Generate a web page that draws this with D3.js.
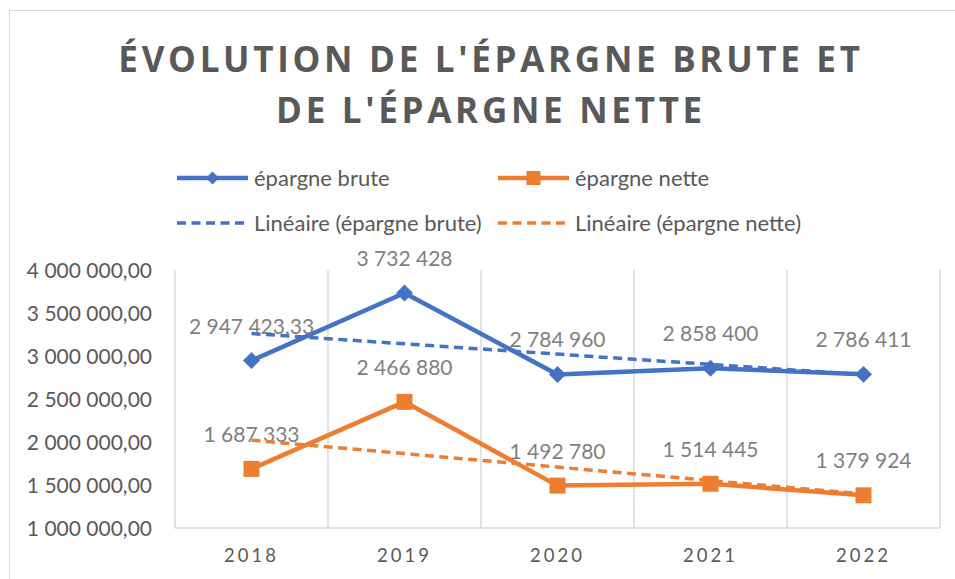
<!DOCTYPE html>
<html>
<head>
<meta charset="utf-8">
<script src="https://cdn.jsdelivr.net/npm/d3@7"></script>
<style>
  body { margin: 0; background: #fff; }
  text { font-family: Lato, "Noto Sans", sans-serif; fill: #595959; }
</style>
</head>
<body>
<svg id="chart"></svg>
<script>
// Data
const years = ["2018", "2019", "2020", "2021", "2022"];
const epargneBrute = [2947423.33, 3732428, 2784960, 2858400, 2786411];
const epargneNette = [1687333, 2466880, 1492780, 1514445, 1379924];
const yTicks = [1000000, 1500000, 2000000, 2500000, 3000000, 3500000, 4000000];
const titleLines = ["ÉVOLUTION DE L'ÉPARGNE BRUTE ET", "DE L'ÉPARGNE NETTE"];
const seriesNames = ["épargne brute", "épargne nette"];
const trendNames = ["Linéaire (épargne brute)", "Linéaire (épargne nette)"];

const width = 955, height = 579;
const blue = "#4472C4", orange = "#ED7D31", grid = "#d9d9d9";

const fr = d3.formatLocale({ decimal: ",", thousands: " ", grouping: [3], currency: ["", " €"] });
const axisFmt = fr.format(",.2f");
const labelFmt = v => Number.isInteger(v) ? fr.format(",.0f")(v) : fr.format(",.2f")(v);

const svg = d3.select("#chart").attr("width", width).attr("height", height);
svg.append("rect").attr("width", width).attr("height", height).attr("fill", "#fff");

// chart frame
svg.append("rect")
  .attr("x", 9.5).attr("y", 10.5)
  .attr("width", width + 20).attr("height", height + 20)
  .attr("fill", "none").attr("stroke", grid).attr("stroke-width", 1);

// Title
svg.append("g").selectAll("text")
  .data(titleLines)
  .join("text")
  .attr("x", 491)
  .attr("y", (d, i) => 72 + i * 51)
  .attr("text-anchor", "middle")
  .style("font-family", "'Open Sans', sans-serif")
  .style("font-weight", 700)
  .style("font-size", "35px")
  .style("letter-spacing", "3.7px")
  .text(d => d);

// Scales
const x = d3.scaleBand().domain(years).range([175, 940]);
const y = d3.scaleLinear().domain([1000000, 4000000]).range([528, 270]);
const cx = d => x(d) + x.bandwidth() / 2;

// vertical gridlines at category boundaries
const bounds = years.map(d => x(d)).concat([x.range()[1]]);
svg.append("g").selectAll("line")
  .data(bounds)
  .join("line")
  .attr("x1", d => d).attr("x2", d => d)
  .attr("y1", y.range()[1]).attr("y2", y.range()[0])
  .attr("stroke", grid).attr("stroke-width", 1.5);

// baseline
svg.append("line")
  .attr("x1", x.range()[0]).attr("x2", x.range()[1])
  .attr("y1", y.range()[0]).attr("y2", y.range()[0])
  .attr("stroke", grid).attr("stroke-width", 1.5);

// Y axis
const yAxis = svg.append("g")
  .attr("transform", "translate(152,0)")
  .call(d3.axisLeft(y).tickValues(yTicks).tickFormat(axisFmt).tickSize(0).tickPadding(0));
yAxis.select(".domain").remove();
yAxis.selectAll("text")
  .attr("dy", "0.35em")
  .style("font-family", "Lato, sans-serif")
  .style("font-size", "21px")
  .attr("fill", "#595959");

// X axis
const xAxis = svg.append("g")
  .attr("transform", "translate(0," + y.range()[0] + ")")
  .call(d3.axisBottom(x).tickSize(0).tickPadding(0));
xAxis.select(".domain").remove();
xAxis.selectAll("text")
  .attr("y", 34)
  .attr("dy", 0)
  .style("font-family", "Lato, sans-serif")
  .style("font-size", "18.5px")
  .style("letter-spacing", "3px")
  .attr("fill", "#595959");

const series = [
  { name: seriesNames[0], trend: trendNames[0], values: epargneBrute, color: blue, marker: "diamond" },
  { name: seriesNames[1], trend: trendNames[1], values: epargneNette, color: orange, marker: "square" }
];

// least squares trend, as the spreadsheet does for a linear trendline
function linearFit(values) {
  const xs = values.map((v, i) => i + 1);
  const mx = d3.mean(xs), my = d3.mean(values);
  const slope = d3.sum(xs, (xi, i) => (xi - mx) * (values[i] - my)) / d3.sum(xs, xi => (xi - mx) * (xi - mx));
  const b = my - slope * mx;
  return values.map((v, i) => b + slope * (i + 1));
}

const line = d3.line().x(d => cx(d.year)).y(d => y(d.value));

function markerPath(type, big) {
  if (type === "diamond") return d3.symbol(d3.symbolSquare, big ? 144 : 85)();
  return d3.symbol(d3.symbolSquare, big ? 256 : 196)();
}
const markerRot = type => type === "diamond" ? " rotate(45)" : "";

series.forEach(s => {
  const pts = years.map((yr, i) => ({ year: yr, value: s.values[i] }));
  const g = svg.append("g");

  g.append("path")
    .attr("d", line(pts))
    .attr("fill", "none")
    .attr("stroke", s.color)
    .attr("stroke-width", 4.5)
    .attr("stroke-linejoin", "round");

  g.selectAll(".mk")
    .data(pts)
    .join("path")
    .attr("class", "mk")
    .attr("d", markerPath(s.marker, true))
    .attr("transform", d => "translate(" + cx(d.year) + "," + y(d.value) + ")" + markerRot(s.marker))
    .attr("fill", s.color);

  g.selectAll(".lbl")
    .data(pts)
    .join("text")
    .attr("class", "lbl")
    .attr("x", d => cx(d.year))
    .attr("y", d => y(d.value) - 27)
    .attr("text-anchor", "middle")
    .style("font-size", "21px")
    .style("fill", "#7f7f7f")
    .text(d => labelFmt(d.value));
});

// trendlines on top
series.forEach(s => {
  const fit = linearFit(s.values);
  const pts = years.map((yr, i) => ({ year: yr, value: fit[i] }));
  svg.append("path")
    .attr("d", line(pts))
    .attr("fill", "none")
    .attr("stroke", s.color)
    .attr("stroke-width", 3.5)
    .attr("stroke-dasharray", "9,5.5");
});

// Legend
const legendItems = [
  { label: series[0].name, color: blue, dashed: false, marker: "diamond" },
  { label: series[1].name, color: orange, dashed: false, marker: "square" },
  { label: series[0].trend, color: blue, dashed: true },
  { label: series[1].trend, color: orange, dashed: true }
];
const legend = svg.append("g").selectAll("g")
  .data(legendItems)
  .join("g")
  .attr("transform", (d, i) => "translate(" + (i % 2 === 0 ? 177 : 498) + "," + (i < 2 ? 178 : 223) + ")");

legend.append("line")
  .attr("x1", 0).attr("x2", 71)
  .attr("stroke", d => d.color)
  .attr("stroke-width", d => d.dashed ? 3.5 : 4.5)
  .attr("stroke-dasharray", d => d.dashed ? "9,5.5" : null);

legend.filter(d => d.marker)
  .append("path")
  .attr("d", d => markerPath(d.marker, false))
  .attr("transform", d => "translate(35.5,0)" + markerRot(d.marker))
  .attr("fill", d => d.color);

legend.append("text")
  .attr("x", 77)
  .attr("dy", "0.35em")
  .style("font-size", "22px")
  .text(d => d.label);
</script>
</body>
</html>
